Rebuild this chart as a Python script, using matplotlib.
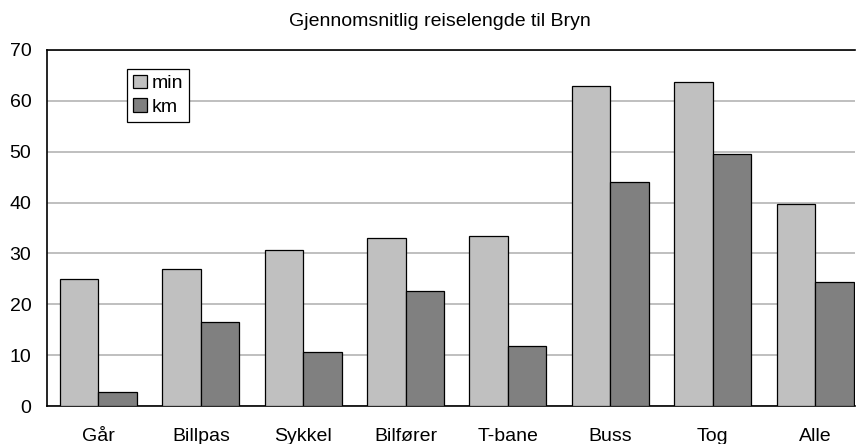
import matplotlib
matplotlib.use("Agg")
import matplotlib.pyplot as plt
import numpy as np

categories = ["Går", "Billpas", "Sykkel", "Bilfører", "T-bane", "Buss", "Tog", "Alle"]
min_vals = [25.0, 27.0, 30.6, 33.1, 33.4, 62.9, 63.7, 39.7]
km_vals = [2.7, 16.5, 10.7, 22.7, 11.7, 44.1, 49.5, 24.3]
yticks = [0, 10, 20, 30, 40, 50, 60, 70]

plt.rcParams['font.family'] = ['Liberation Sans', 'DejaVu Sans']

fig = plt.figure(figsize=(8.56, 4.44), dpi=100)
ax = fig.add_axes([47.3/856, 1-406/444, (855-47.3)/856, (406-50)/444])

x = np.arange(len(categories))
w = 0.376
ax.bar(x - w/2, min_vals, w, color="#C0C0C0", edgecolor="black", linewidth=0.9, label="min", zorder=3)
ax.bar(x + w/2, km_vals, w, color="#808080", edgecolor="black", linewidth=0.9, label="km", zorder=3)

ax.set_xlim(-0.5, 7.39)
ax.set_ylim(0, 70)
ax.set_yticks(yticks)
ax.set_xticks(x)
ax.set_xticklabels(categories, fontsize=14)
ax.tick_params(axis='y', labelsize=14, length=0, pad=11.5)
ax.tick_params(axis='x', length=0, pad=15.5)
ax.yaxis.grid(True, color="#b4b4b4", linewidth=1.2, zorder=0)
ax.set_axisbelow(True)
for s in ["left", "bottom", "top"]:
    ax.spines[s].set_color("black")
    ax.spines[s].set_linewidth(1.2)
ax.spines["right"].set_visible(False)

leg = ax.legend(loc="upper left", bbox_to_anchor=(0.099, 0.947), fontsize=14,
                frameon=True, fancybox=False, edgecolor="black", framealpha=1,
                handlelength=0.7, handleheight=0.7, handletextpad=0.25,
                borderpad=0.3, labelspacing=0.3, borderaxespad=0)
leg.get_frame().set_linewidth(0.9)

fig.text(440/856, 1-22/444, "Gjennomsnitlig reiselengde til Bryn", ha="center", va="center", fontsize=14)

fig.savefig("out.png", dpi=100)
